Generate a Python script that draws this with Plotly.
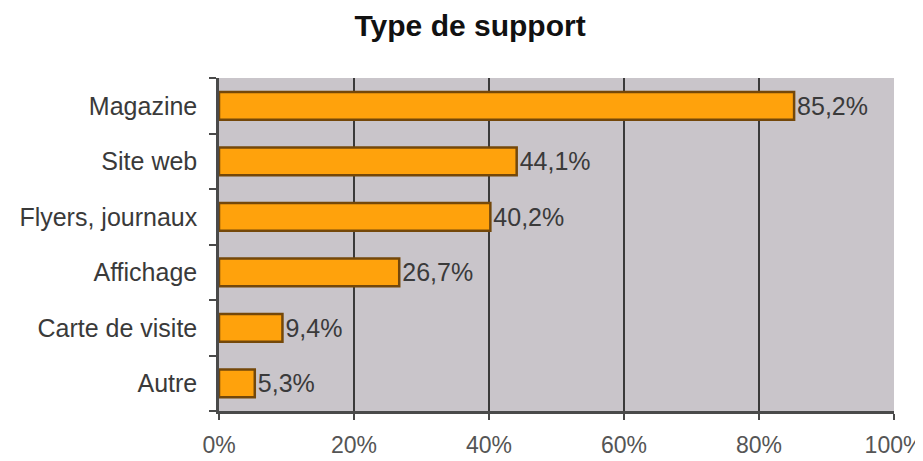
import plotly.graph_objects as go

categories = ["Magazine", "Site web", "Flyers, journaux", "Affichage", "Carte de visite", "Autre"]
values = [85.2, 44.1, 40.2, 26.7, 9.4, 5.3]
x_ticks = [0, 20, 40, 60, 80, 100]
x_tick_labels = ["0%", "20%", "40%", "60%", "80%", "100%"]

labels = [f"{v:.1f}%".replace(".", ",") for v in values]
FONT = "Liberation Sans, Arial, sans-serif"

fig = go.Figure(go.Bar(
    x=values,
    y=categories,
    orientation="h",
    width=0.5,
    marker=dict(color="#ffa20c", line=dict(color="#74480a", width=2.5)),
    text=labels,
    textposition="outside",
    constraintext="none",
    textfont=dict(family=FONT, size=25, color="#3a3a3a"),
    cliponaxis=False,
))

fig.update_layout(
    width=915, height=453,
    margin=dict(l=211, r=29, t=70, b=50),
    paper_bgcolor="white",
    plot_bgcolor="#c9c5ca",
    title=dict(text="<b>Type de support</b>", x=0.505, xanchor="center", y=0.962, yanchor="middle",
               font=dict(family=FONT, size=30, color="#111111")),
    showlegend=False,
)
fig.update_xaxes(
    range=[0, 100], tickvals=x_ticks, ticktext=x_tick_labels,
    automargin=False, ticklabeloverflow="allow",
    showgrid=True, gridcolor="#3a3a3a", gridwidth=2,
    zeroline=False,
    showline=True, linecolor="#4a4a4a", linewidth=2.5,
    ticks="outside", ticklen=6, tickcolor="#4a4a4a", tickwidth=2,
    ticklabelstandoff=6,
    tickfont=dict(family=FONT, size=23, color="#555555"),
)
fig.update_yaxes(
    categoryorder="array", categoryarray=categories[::-1],
    automargin=False,
    showline=True, linecolor="#4a4a4a", linewidth=2.5,
    ticks="outside", ticklen=7, tickcolor="#4a4a4a", tickwidth=2,
    tickson="boundaries", showgrid=False,
    ticklabelstandoff=14,
    tickfont=dict(family=FONT, size=25, color="#3a3a3a"),
)

fig.write_html("out.html")
